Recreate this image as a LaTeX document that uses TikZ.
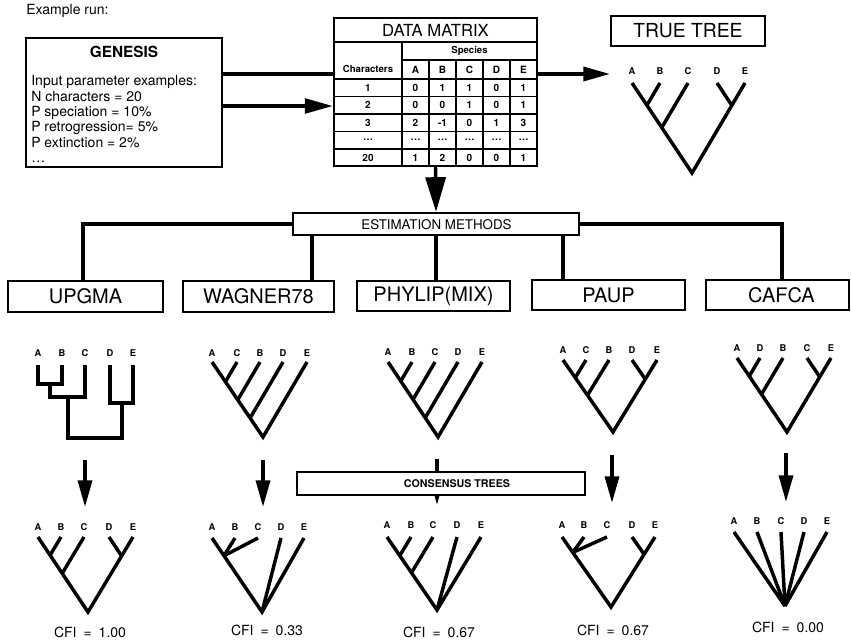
\documentclass[tikz,border=0pt]{standalone}
\usepackage{fontspec}
\setmainfont{TeX Gyre Heros}
\usetikzlibrary{arrows.meta,calc,fit}

% five leaf labels of a tree (prefix #1) at label height #2, tips at height #3
\newcommand{\treetips}[4]{%
  \foreach \lab/\xx [count=\k] in {#4} {%
    \node[leaf] (#1l\k) at (\xx,#2) {\lab};
    \coordinate (#1\k) at (\xx,#3);
  }}
% the two outer stems of a V-shaped tree
\newcommand{\stems}[1]{\draw[treeline] (#11) -- (#1r) -- (#15);}
% tip #2 joins the left stem, running parallel to the right stem
\newcommand{\lbranch}[2]{%
  \coordinate (#1q#2) at ($(#1#2)+(#1r)-(#15)$);
  \draw[treeline] (#1#2) -- (intersection of #1r--#11 and #1#2--#1q#2);}
% tip #2 joins the right stem, running parallel to the left stem
\newcommand{\rbranch}[2]{%
  \coordinate (#1q#2) at ($(#1#2)+(#1r)-(#11)$);
  \draw[treeline] (#1#2) -- (intersection of #1r--#15 and #1#2--#1q#2);}

\begin{document}
\begin{tikzpicture}[x=0.75pt,y=-0.75pt,
  box/.style={draw,line width=1.7pt,fill=white,inner sep=0pt},
  rule/.style={line width=1.2pt},
  conn/.style={line width=2.4pt},
  arr/.style={line width=2.6pt,-{Triangle[length=20pt,width=10.5pt]}},
  bigarr/.style={line width=2.6pt,-{Triangle[length=26pt,width=15pt]}},
  treeline/.style={line width=2.6pt},
  leaf/.style={font=\bfseries\fontsize{7}{8}\selectfont,inner sep=0pt},
  mfont/.style={font=\fontsize{15}{17}\selectfont,inner sep=0pt},
  mcell/.style={font=\bfseries\fontsize{7.5}{9}\selectfont,inner sep=0pt},
  mhead/.style={font=\bfseries\fontsize{7.2}{9}\selectfont,inner sep=0pt},
  gline/.style={font=\fontsize{10.5}{12}\selectfont,inner sep=0pt,anchor=base west},
  cfi/.style={font=\fontsize{10.5}{12}\selectfont,inner sep=0pt}]

\useasboundingbox (0,0) rectangle (851,642);
\fill[white] (0,0) rectangle (851,642);

\node[anchor=west,font=\fontsize{10.5}{12}\selectfont,inner sep=0pt] (caption) at (26,11) {Example run:};

% ---------- simulation program ----------
\node[box,fit={(26,38) (222,167)}] (genesis) {};
\node[font=\bfseries\fontsize{11.5}{13}\selectfont,inner sep=0pt] (gname) at (124,52) {GENESIS};
\node[gline] (g1) at (31,86) {Input parameter examples:};
\node[gline] (g2) at (31,101.5) {N characters = 20};
\node[gline] (g3) at (31,117) {P speciation = 10\%};
\node[gline] (g4) at (31,132) {P retrogression= 5\%};
\node[gline] (g5) at (31,147.5) {P extinction = 2\%};
\node[gline] (g6) at (31,163) {\dots};

% ---------- data matrix ----------
\node[box,fit={(334,18) (537,166)}] (matrix) {};
\draw[rule] (334,42) -- (537,42);
\draw[rule] (402,42) -- (402,166);
\draw[rule] (402,60) -- (537,60);
\foreach \yy in {79,96.5,114,131.5,149} \draw[rule] (334,\yy) -- (537,\yy);
\foreach \xx in {429,456,483,510} \draw[rule] (\xx,60) -- (\xx,166);
\node[font=\fontsize{12.5}{14}\selectfont,inner sep=0pt] (mname) at (435.5,30.5) {DATA MATRIX};
\node[mhead] (mspecies) at (469.5,51) {Species};
\node[mhead] (mchars) at (368,69.5) {Characters};
\foreach \lab [count=\j] in {A,B,C,D,E}
  \node[mcell] (mh\j) at (388.5+27*\j,69.5) {\lab};
\foreach \yy/\rl/\va/\vb/\vc/\vd/\ve [count=\i] in
  {87.75/1/0/1/1/0/1, 105.25/2/0/0/1/0/1, 122.75/3/2/-1/0/1/3,
   140.25/\dots/\dots/\dots/\dots/\dots/\dots, 157.75/20/1/2/0/0/1} {
  \node[mcell] (m\i c0) at (368,\yy) {\rl};
  \node[mcell] (m\i c1) at (415.5,\yy) {\va};
  \node[mcell] (m\i c2) at (442.5,\yy) {\vb};
  \node[mcell] (m\i c3) at (469.5,\yy) {\vc};
  \node[mcell] (m\i c4) at (496.5,\yy) {\vd};
  \node[mcell] (m\i c5) at (523.5,\yy) {\ve};
}

% ---------- true tree ----------
\node[box,fit={(611,16) (765,46)}] (truebox) {};
\node[font=\fontsize{14.5}{16}\selectfont,inner sep=0pt] (tname) at (truebox.center) {TRUE TREE};
\treetips{t}{71}{83}{A/632,B/660,C/688,D/717,E/745}
\coordinate (tr) at (692,173);
\stems{t} \lbranch{t}{2} \lbranch{t}{3} \rbranch{t}{4}

% connectors out of GENESIS
\coordinate (gy1) at (0,74);
\coordinate (gy2) at (0,106);
\coordinate (ttin) at (610,74);
\draw[conn] (genesis.east |- gy1) -- (matrix.west |- gy1);
\draw[arr] (matrix.east |- gy1) -- (ttin);
\draw[arr,-{Triangle[length=21pt,width=11pt]}] (genesis.east |- gy2) -- (matrix.west |- gy2);

% ---------- estimation methods ----------
\node[box,fit={(293,213) (579,235)}] (estim) {};
\node[font=\fontsize{10}{12}\selectfont,inner sep=0pt] (etext) at (436.5,224.5) {ESTIMATION METHODS};
\draw[bigarr] (matrix.south) -- (estim.north);

\node[box,fit={(8,281) (163,312)}] (upgma) {};
\node[box,fit={(183,281) (334,312)}] (wagner) {};
\node[box,fit={(357,281) (510,311)}] (phylip) {};
\node[box,fit={(532,280) (685,310)}] (paup) {};
\node[box,fit={(706,280) (849,310)}] (cafca) {};
\node[mfont] (tu) at (upgma.center) {UPGMA};
\node[mfont] (tw) at (wagner.center) {WAGNER78};
\node[mfont] (tp) at (phylip.center) {PHYLIP(MIX)};
\node[mfont] (ta) at (paup.center) {PAUP};
\node[mfont] (tc) at ([xshift=3pt]cafca.center) {CAFCA};

\coordinate (ux) at (83,0);
\coordinate (wx) at (312,0);
\coordinate (px) at (563,0);
\coordinate (cx) at (782,0);
\draw[conn] (estim.west) -| (upgma.north -| ux);
\draw[conn] (estim.south -| wx) -- (wagner.north -| wx);
\draw[conn] (estim.south) -- (estim.south |- phylip.north);
\draw[conn] (estim.south -| px) -- (paup.north -| px);
\draw[conn] (estim.east) -| (cafca.north -| cx);

% ---------- estimated trees ----------
% UPGMA phenogram
\treetips{u}{353}{365}{A/38,B/62,C/85,D/110,E/133}
\coordinate (uab) at (50,384);
\coordinate (uabc) at (68,397);
\coordinate (ude) at (122,403);
\coordinate (ur) at (95,438);
\draw[treeline] (u1) |- (uab) -| (u2);
\draw[treeline] (uab) -- (uab |- uabc) -| (u3);
\draw[treeline] (u4) |- (ude) -| (u5);
\draw[treeline] (uabc) |- (ur) -| (ude);
% WAGNER78
\treetips{w}{353}{362}{A/212,C/237,B/260,D/283,E/307}
\coordinate (wr) at (263,437);
\stems{w} \lbranch{w}{2} \lbranch{w}{3} \lbranch{w}{4}
% PHYLIP(MIX)
\treetips{p}{352}{362}{A/388,B/412,C/435,D/458,E/482}
\coordinate (pr) at (438,437);
\stems{p} \lbranch{p}{2} \lbranch{p}{3} \lbranch{p}{4}
% PAUP
\treetips{a}{350}{360}{A/563,C/586,B/609,D/632,E/657}
\coordinate (ar) at (613,432);
\stems{a} \lbranch{a}{2} \lbranch{a}{3} \rbranch{a}{4}
% CAFCA
\treetips{c}{348}{358}{A/737,D/760,B/783,C/807,E/831}
\coordinate (cr) at (787,432);
\stems{c} \lbranch{c}{2} \lbranch{c}{3} \rbranch{c}{4}

% ---------- arrows to the consensus trees ----------
\coordinate (da1) at (85,460);  \coordinate (db1) at (85,507);
\coordinate (da2) at (263,460); \coordinate (db2) at (263,507);
\coordinate (da3) at (437,459); \coordinate (db3) at (437,505);
\coordinate (da4) at (612,455); \coordinate (db4) at (612,503);
\coordinate (da5) at (786,453); \coordinate (db5) at (786,502);
\foreach \n in {1,...,5} \draw[arr] (da\n) -- (db\n);

\node[box,fit={(297,472) (585,495)}] (consensus) {};
\node[font=\bfseries\fontsize{8}{9}\selectfont,inner sep=0pt] (ctext) at (457,483.5) {CONSENSUS TREES};

% ---------- consensus trees ----------
\treetips{U}{527}{537}{A/38,B/61,C/84,D/109,E/133}
\coordinate (Ur) at (88,612);
\stems{U} \lbranch{U}{2} \lbranch{U}{3} \rbranch{U}{4}

\treetips{W}{527}{538}{A/212,B/235,C/258,D/281,E/304}
\coordinate (Wr) at (262,612);
\coordinate (WJ) at ($(Wr)!0.76!(W1)$);
\stems{W}
\draw[treeline] (W2) -- (WJ);
\draw[treeline] (W3) -- (WJ);
\draw[treeline] (W4) -- (Wr);

\treetips{P}{525}{537}{A/387,B/411,C/433,D/457,E/481}
\coordinate (Pr) at (437,610);
\stems{P} \lbranch{P}{2} \lbranch{P}{3}
\draw[treeline] (P4) -- (Pr);

\treetips{A}{525}{537}{A/562,B/584,C/607,D/632,E/655}
\coordinate (Ar) at (611,607);
\coordinate (AJ) at ($(Ar)!0.78!(A1)$);
\stems{A}
\draw[treeline] (A2) -- (AJ);
\draw[treeline] (A3) -- (AJ);
\rbranch{A}{4}

\treetips{C}{521}{532}{A/734,B/757,C/781,D/804,E/827}
\coordinate (Cr) at (785,606);
\foreach \n in {1,...,5} \draw[treeline] (C\n) -- (Cr);

% ---------- fit indices ----------
\node[cfi] (cfi1) at (90,632) {CFI\enspace=\enspace1.00};
\node[cfi] (cfi2) at (267,630) {CFI\enspace=\enspace0.33};
\node[cfi] (cfi3) at (439,632) {CFI\enspace=\enspace0.67};
\node[cfi] (cfi4) at (613,630) {CFI\enspace=\enspace0.67};
\node[cfi] (cfi5) at (788,627) {CFI\enspace=\enspace0.00};
\end{tikzpicture}
\end{document}
